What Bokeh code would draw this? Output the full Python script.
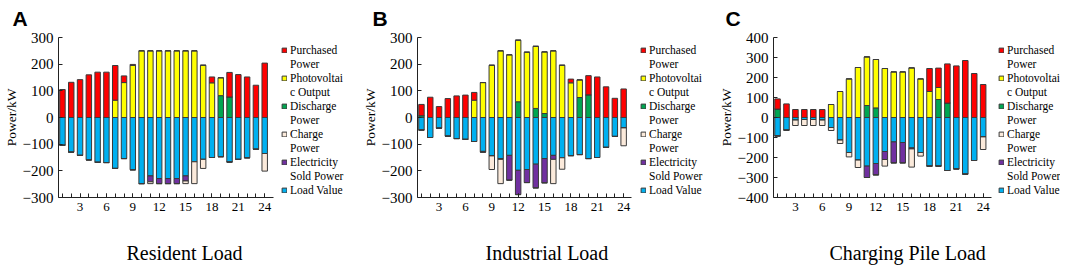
from bokeh.plotting import figure
from bokeh.models import Legend, LegendItem, Title, FixedTicker, Range1d, ColumnDataSource
from bokeh.layouts import row
from bokeh.embed import file_html
from bokeh.resources import INLINE

hours = list(range(1, 25))
x_ticks = [3, 6, 9, 12, 15, 18, 21, 24]

panel_titles = ["Resident Load", "Industrial Load", "Charging Pile Load"]
panel_letters = ["A", "B", "C"]

# Panel A - Resident Load (kW)
purchased_a = [105, 132, 142, 160, 170, 170, 130, 25, 4, 0, 0, 0, 0, 0, 0, 0, 0, 22, 0, 92, 161, 152, 121, 204]
pv_a = [0, 0, 0, 0, 0, 0, 65, 131, 195, 250, 250, 250, 250, 250, 250, 250, 196, 130, 67, 0, 0, 0, 0, 0]
discharge_a = [0, 0, 0, 0, 0, 0, 0, 0, 0, 0, 0, 0, 0, 0, 0, 0, 0, 0, 82, 77, 0, 0, 0, 0]
charge_a = [0, 0, 0, 0, 0, 0, 0, 0, 0, 0, 7, 0, 0, 0, 10, 82, 34, 0, 0, 0, 0, 0, 0, 66]
sold_a = [0, 0, 0, 0, 0, 0, 0, 0, 0, 0, 22, 19, 19, 19, 19, 0, 0, 0, 0, 0, 0, 0, 0, 0]
load_a = [104, 130, 142, 159, 168, 169, 191, 154, 196, 248, 219, 229, 229, 229, 219, 166, 157, 150, 147, 167, 157, 151, 119, 135]

# Panel B - Industrial Load (kW)
purchased_b = [42, 76, 41, 71, 81, 84, 29, 0, 0, 0, 0, 0, 0, 0, 0, 0, 0, 14, 0, 72, 152, 115, 72, 107]
pv_b = [0, 0, 0, 0, 0, 0, 65, 131, 196, 250, 235, 231, 245, 233, 231, 250, 196, 130, 66, 0, 0, 0, 0, 0]
discharge_b = [7, 0, 0, 0, 0, 0, 0, 0, 0, 0, 0, 59, 0, 34, 15, 0, 0, 0, 75, 85, 0, 0, 0, 0]
charge_b = [0, 0, 0, 0, 0, 0, 0, 0, 51, 91, 0, 0, 0, 0, 0, 91, 43, 0, 0, 0, 0, 0, 0, 67]
sold_b = [0, 0, 0, 0, 0, 0, 0, 3, 0, 3, 93, 91, 49, 89, 91, 15, 0, 0, 0, 0, 0, 0, 0, 0]
load_b = [47, 75, 40, 70, 79, 82, 90, 127, 144, 154, 142, 198, 195, 175, 154, 142, 151, 143, 139, 154, 150, 112, 71, 39]

# Panel C - Charging Pile Load (kW)
purchased_c = [51, 68, 40, 40, 40, 40, 0, 0, 0, 0, 0, 0, 0, 0, 0, 0, 0, 115, 97, 196, 258, 285, 220, 165]
pv_c = [0, 0, 0, 0, 0, 0, 65, 130, 193, 250, 243, 242, 245, 228, 228, 248, 193, 130, 60, 0, 0, 0, 0, 0]
discharge_c = [42, 0, 0, 0, 0, 0, 0, 0, 0, 0, 60, 48, 0, 0, 0, 0, 0, 0, 90, 72, 0, 0, 0, 0]
charge_c = [0, 0, 27, 30, 30, 27, 15, 17, 22, 37, 0, 0, 33, 0, 0, 91, 18, 0, 0, 0, 0, 0, 0, 63]
sold_c = [0, 0, 0, 0, 0, 0, 0, 0, 0, 0, 57, 57, 40, 105, 102, 5, 0, 0, 0, 0, 0, 0, 0, 0]
load_c = [92, 63, 13, 10, 10, 13, 50, 113, 175, 213, 243, 230, 170, 122, 125, 152, 175, 243, 243, 265, 257, 283, 215, 97]

C_RED = "#FF0000"
C_YEL = "#FFFF00"
C_GRN = "#00A651"
C_BEI = "#FBEADB"
C_PUR = "#7030A0"
C_BLU = "#00B0F0"
EDGE = "#3A3A3A"
SERIF = "Liberation Serif"
NBSP = "\u00a0"


def make_panel(letter, title, purchased, pv, discharge, charge, sold, load,
               ymax, fig_w, x_end, legend_x, title_off, letter_off):
    src = ColumnDataSource(dict(
        hour=hours, discharge=discharge, pv=pv, purchased=purchased,
        load=[-v for v in load], sold=[-v for v in sold], charge=[-v for v in charge]))
    p = figure(width=fig_w, height=269,
               min_border_left=49, min_border_right=0,
               min_border_top=37, min_border_bottom=72,
               x_range=Range1d(0.55, x_end), y_range=Range1d(-ymax, ymax),
               output_backend="svg", toolbar_location=None)
    p.outline_line_color = None
    p.grid.visible = False
    p.background_fill_color = "white"
    p.border_fill_color = "white"

    pos = p.vbar_stack(["discharge", "pv", "purchased"], x="hour", width=0.62,
                       fill_color=[C_GRN, C_YEL, C_RED], line_color=EDGE,
                       line_width=1, source=src)
    neg = p.vbar_stack(["load", "sold", "charge"], x="hour", width=0.62,
                       fill_color=[C_BLU, C_PUR, C_BEI], line_color=EDGE,
                       line_width=1, source=src)
    dummy = p.vbar(x=[], top=[], width=0.5, fill_alpha=0, line_alpha=0)

    items = [
        LegendItem(label="Purchased", renderers=[pos[2]]),
        LegendItem(label="Power", renderers=[dummy]),
        LegendItem(label="Photovoltai", renderers=[pos[1]]),
        LegendItem(label="c Output", renderers=[dummy]),
        LegendItem(label="Discharge", renderers=[pos[0]]),
        LegendItem(label="Power", renderers=[dummy]),
        LegendItem(label="Charge", renderers=[neg[2]]),
        LegendItem(label="Power", renderers=[dummy]),
        LegendItem(label="Electricity", renderers=[neg[1]]),
        LegendItem(label="Sold Power", renderers=[dummy]),
        LegendItem(label="Load Value", renderers=[neg[0]]),
    ]
    legend = Legend(items=items, location=(legend_x, 0), orientation="vertical",
                    glyph_width=6, glyph_height=6, label_height=14,
                    spacing=0, padding=0, margin=0, border_line_color=None,
                    background_fill_alpha=0, label_standoff=3,
                    label_text_font=SERIF, label_text_font_size="11.5px",
                    label_text_color="black")
    p.add_layout(legend)

    xa = p.xaxis[0]
    xa.bounds = (0.55, 24.95)
    xa.ticker = FixedTicker(ticks=x_ticks, minor_ticks=hours)
    xa.major_tick_in = 4
    xa.major_tick_out = 0
    xa.minor_tick_in = 4
    xa.minor_tick_out = 0
    xa.major_label_text_font = SERIF
    xa.major_label_text_font_size = "13px"
    xa.major_label_text_color = "black"
    xa.major_label_standoff = 5
    xa.axis_line_color = "#222222"
    xa.major_tick_line_color = "#222222"
    xa.minor_tick_line_color = "#222222"
    # blank spacer label (keeps the panel title at the reference's depth)
    xa.axis_label = NBSP
    xa.axis_label_text_font = SERIF
    xa.axis_label_text_font_size = "20px"
    xa.axis_label_standoff = 0

    ya = p.yaxis[0]
    ya.bounds = (-ymax, ymax)
    ya.ticker = FixedTicker(ticks=list(range(-ymax, ymax + 1, 100)))
    ya.major_tick_in = 4
    ya.major_tick_out = 0
    ya.minor_tick_in = 0
    ya.minor_tick_out = 0
    ya.major_label_text_font = SERIF
    ya.major_label_text_font_size = "15px"
    ya.major_label_text_color = "black"
    ya.major_label_standoff = 5
    ya.axis_line_color = "#222222"
    ya.major_tick_line_color = "#222222"
    ya.axis_label = "Power/kW"
    ya.axis_label_text_font = SERIF
    ya.axis_label_text_font_size = "13.5px"
    ya.axis_label_text_font_style = "normal"
    ya.axis_label_text_color = "black"
    ya.axis_label_standoff = 1

    p.add_layout(Title(text=title, align="left", offset=title_off, standoff=2,
                       text_font=SERIF, text_font_size="20px",
                       text_font_style="normal", text_color="black"), "below")
    p.add_layout(Title(text=letter, align="left", offset=letter_off, standoff=11,
                       vertical_align="top",
                       text_font="Liberation Sans", text_font_size="21px",
                       text_font_style="bold", text_color="black"), "above")
    return p


pa = make_panel(panel_letters[0], panel_titles[0], purchased_a, pv_a, discharge_a,
                charge_a, sold_a, load_a, 300, 359, 34.78, 223, 68, -46)
pb = make_panel(panel_letters[1], panel_titles[1], purchased_b, pv_b, discharge_b,
                charge_b, sold_b, load_b, 300, 356, 34.45, 223, 68, -45)
pc = make_panel(panel_letters[2], panel_titles[2], purchased_c, pv_c, discharge_c,
                charge_c, sold_c, load_c, 400, 345, 32.65, 225, 56, -48)

layout = row(pa, pb, pc, spacing=0)
open("out.html", "w").write(file_html(layout, INLINE))
